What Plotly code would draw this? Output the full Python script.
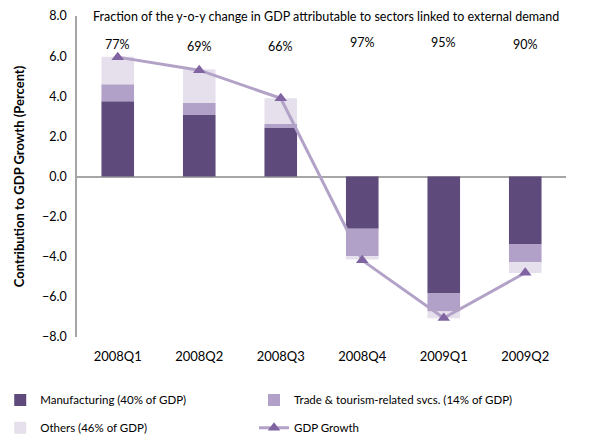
import plotly.graph_objects as go

quarters = ["2008Q1", "2008Q2", "2008Q3", "2008Q4", "2009Q1", "2009Q2"]
manufacturing = [3.75, 3.06, 2.42, -2.60, -5.83, -3.36]
trade_tourism = [0.85, 0.60, 0.20, -1.37, -0.90, -0.91]
others = [1.37, 1.68, 1.28, -0.17, -0.33, -0.54]
gdp_growth = [5.95, 5.30, 3.90, -4.18, -7.05, -4.80]
external_share = ["77%", "69%", "66%", "97%", "95%", "90%"]
share_label_y = [6.6, 6.5, 6.5, 6.7, 6.7, 6.6]

FONT = "Lato"

fig = go.Figure()
fig.add_trace(go.Bar(x=quarters, y=manufacturing, name="Manufacturing (40% of GDP)",
                     marker=dict(color="#5f4b7b", line=dict(width=0)), legend="legend"))
fig.add_trace(go.Bar(x=quarters, y=trade_tourism, name="Trade & tourism-related svcs. (14% of GDP)",
                     marker=dict(color="#b1a0c7", line=dict(width=0)), legend="legend2"))
fig.add_trace(go.Bar(x=quarters, y=others, name="Others (46% of GDP)",
                     marker=dict(color="#e6e0ec", line=dict(width=0)), legend="legend3"))
fig.add_trace(go.Scatter(x=quarters, y=gdp_growth, name="GDP Growth", mode="lines+markers",
                         line=dict(color="#b3a2c7", width=3),
                         marker=dict(symbol="triangle-up", size=11, color="#8064a2"),
                         legend="legend4"))

for q, txt, yy in zip(quarters, external_share, share_label_y):
    fig.add_annotation(x=q, y=yy, text=txt, showarrow=False,
                       font=dict(family=FONT, size=12.5, color="#000000"))

fig.add_annotation(xref="paper", yref="paper", x=0.51, y=1.0, yanchor="middle",
                   text="Fraction of the y-o-y change in GDP attributable to sectors linked to external demand",
                   showarrow=False, font=dict(family=FONT, size=12.5, color="#000000"))

legend_common = dict(orientation="v", xanchor="left", yanchor="middle", itemwidth=30,
                     font=dict(family=FONT, size=11.5, color="#000000"))
COL1_X, COL2_X = -0.157, 0.362
ROW1_Y, ROW2_Y = -0.196, -0.283

fig.update_layout(
    width=609, height=440,
    margin=dict(l=77, r=43, t=16, b=103, autoexpand=False),
    barmode="relative", bargap=0.6,
    plot_bgcolor="white", paper_bgcolor="white",
    font=dict(family=FONT, size=12, color="#000000"),
    showlegend=True,
    legend=dict(x=COL1_X, y=ROW1_Y, **legend_common),
    legend2=dict(x=COL2_X, y=ROW1_Y, **legend_common),
    legend3=dict(x=COL1_X, y=ROW2_Y, **legend_common),
    legend4=dict(x=COL2_X, y=ROW2_Y, **legend_common),
    xaxis=dict(showline=False, showgrid=False, zeroline=False,
               ticks="outside", ticklen=7, tickcolor="white",
               tickfont=dict(family=FONT, size=13)),
    yaxis=dict(range=[-8, 8], dtick=2, tickformat=".1f", showgrid=False,
               showline=True, linecolor="#a6a6a6", linewidth=1.5,
               zeroline=True, zerolinecolor="#a6a6a6", zerolinewidth=1.5,
               ticks="outside", ticklen=6, tickcolor="white",
               tickfont=dict(family=FONT, size=12.5),
               title=dict(text="<b>Contribution to GDP Growth (Percent)</b>",
                          font=dict(family=FONT, size=13), standoff=14)),
)

fig.write_html("out.html")
